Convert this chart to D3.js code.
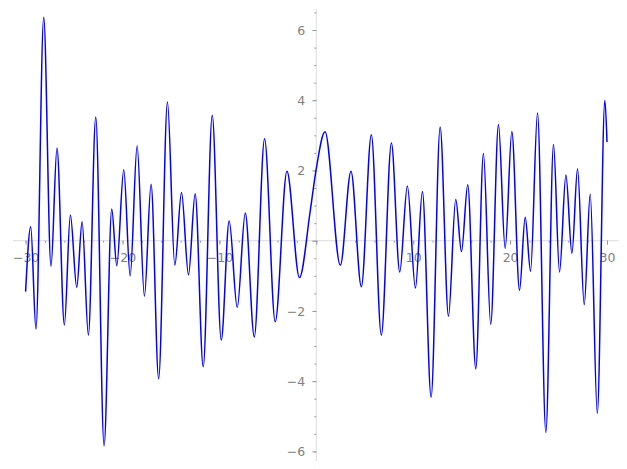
<!DOCTYPE html>
<html lang="en">
<head>
  <meta charset="UTF-8">
  <title>Curve</title>
  <script src="https://d3js.org/d3.v7.min.js"></script>
  <style>
    html, body {
      margin: 0;
      padding: 0;
      background: #fff;
    }
    .tick text {
      font-family: "DejaVu Sans", sans-serif;
      font-size: 12.5px;
      fill: #7f7f7f;
    }
    .tick line {
      stroke: #9a9a9a;
    }
    .axis-line {
      stroke: #e3e3e3;
      stroke-width: 1.2;
    }
    .curve {
      fill: none;
      stroke: #0000ff;
      stroke-width: 1.5;
    }
  </style>
</head>
<body>
  <div id="container"></div>
  <script>
    const width = 627;
    const height = 469;

    // peaks / troughs (x, y)
    const xs = [-30, -29.47, -28.93, -28.13, -27.38, -26.76, -26.0, -25.38, -24.72, -24.17,
      -23.52, -22.76, -21.9, -21.11, -20.59, -19.87, -19.21, -18.49, -17.74, -17.05,
      -16.27, -15.36, -14.6, -13.91, -13.19, -12.5, -11.67, -10.74, -9.81, -8.99,
      -8.16, -7.33, -6.4, -5.34, -4.24, -3.03, -1.74, -0.62, -0.03, 0.9,
      2.48, 3.58, 4.65, 5.68, 6.71, 7.75, 8.61, 9.4, 10.23, 10.95,
      11.85, 12.78, 13.64, 14.39, 14.98, 15.63, 16.46, 17.25, 18.0, 18.8,
      19.49, 20.18, 20.97, 21.56, 22.11, 22.83, 23.69, 24.48, 25.1, 25.76,
      26.38, 26.96, 27.65, 28.27, 29.0, 29.78, 30.0];
    const ys = [-1.45, 0.4, -2.52, 6.36, -0.73, 2.64, -2.4, 0.73, -1.33, 0.54,
      -2.69, 3.52, -5.84, 0.9, -0.71, 2.02, -1.0, 2.7, -1.58, 1.61,
      -3.93, 3.95, -0.7, 1.37, -0.97, 1.34, -3.59, 3.57, -2.83, 0.56,
      -1.9, 0.79, -2.74, 2.9, -2.31, 1.98, -1.05, 0.86, 2.0, 3.1,
      -0.7, 1.98, -1.31, 3.02, -2.69, 2.78, -0.89, 1.56, -1.35, 1.4,
      -4.46, 3.24, -2.15, 1.18, -0.31, 1.59, -3.65, 2.48, -2.38, 3.31,
      -0.22, 3.11, -1.41, 0.67, -0.87, 3.64, -5.46, 2.74, -0.89, 1.87,
      -0.36, 2.05, -1.82, 1.33, -4.92, 4.0, 2.81];

    const xTicks = [-30, -20, -10, 0, 10, 20, 30];
    const yTicks = [-6, -4, -2, 0, 2, 4, 6];
    const xMinor = d3.range(-30, 31, 2);
    const yMinor = d3.range(-6.5, 6.51, 0.5);

    const svg = d3.select('#container').append('svg')
      .attr('width', width).attr('height', height);

    const xScale = d3.scaleLinear().domain([-30, 30]).range([25.6, 607]);
    const yScale = d3.scaleLinear().domain([-6, 6]).range([451.4, 30]);
    const x0 = xScale(0), y0 = yScale(0);

    const fmt = d => d === 0 ? '' : d3.format('d')(d);

    // axis lines
    svg.append('line').attr('class', 'axis-line')
      .attr('x1', xScale(-31.3)).attr('x2', xScale(31.2))
      .attr('y1', y0).attr('y2', y0);
    svg.append('line').attr('class', 'axis-line')
      .attr('x1', x0).attr('x2', x0)
      .attr('y1', yScale(6.6)).attr('y2', yScale(-6.27));

    // minor ticks
    svg.append('g').attr('transform', `translate(0,${y0})`)
      .call(d3.axisBottom(xScale).tickValues(xMinor).tickSize(2).tickFormat(''))
      .call(g => g.select('.domain').remove());
    svg.append('g').attr('transform', `translate(${x0},0)`)
      .call(d3.axisLeft(yScale).tickValues(yMinor).tickSize(2).tickFormat(''))
      .call(g => g.select('.domain').remove());

    // major ticks + labels
    svg.append('g').attr('transform', `translate(0,${y0})`)
      .call(d3.axisBottom(xScale).tickValues(xTicks).tickSize(4).tickFormat(fmt))
      .call(g => g.select('.domain').remove())
      .call(g => g.selectAll('text').attr('y', 21).attr('dy', 0));
    svg.append('g').attr('transform', `translate(${x0},0)`)
      .call(d3.axisLeft(yScale).tickValues(yTicks).tickSize(4).tickFormat(fmt))
      .call(g => g.select('.domain').remove())
      .call(g => g.selectAll('text').attr('x', -11).attr('dy', '0.35em'));

    svg.selectAll('.tick text').attr('font-family', null).attr('font-size', null);

    const line = d3.line()
      .x(i => xScale(xs[i]))
      .y(i => yScale(ys[i]))
      .curve(d3.curveMonotoneX);

    svg.append('path').datum(d3.range(xs.length)).attr('class', 'curve').attr('d', line);
  </script>
</body>
</html>
